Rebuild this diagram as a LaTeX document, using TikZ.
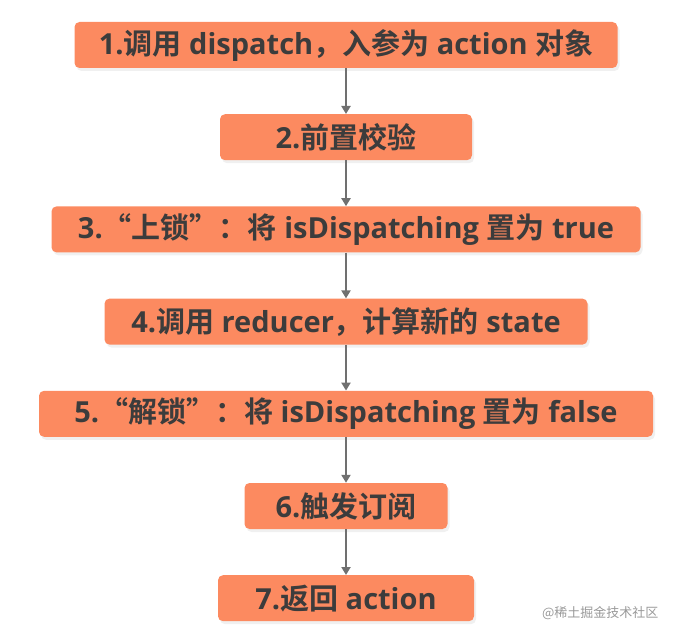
\documentclass[tikz,border=0pt]{standalone}
\usepackage{fontspec}
\setmainfont{Open Sans}
\newfontfamily\cjk{Noto Sans CJK SC}[BoldFont={Noto Sans CJK SC Bold}]
\newcommand{\zh}[1]{{\cjk #1}}
\usepackage{tikz}
\usetikzlibrary{positioning, shadows, arrows.meta}
\definecolor{boxorange}{HTML}{FC8A60}
\definecolor{boxtext}{HTML}{3C3C3C}
\definecolor{arrowgray}{HTML}{707070}
\tikzstyle{flowbox} = [rectangle, rounded corners=5pt, fill=boxorange, text=boxtext, font=\bfseries\fontsize{29}{31}\selectfont, minimum height=46pt, inner sep=0pt, drop shadow={opacity=0.12, shadow xshift=2pt, shadow yshift=-3pt}]
\tikzstyle{arrow} = [line width=2.4pt, draw=arrowgray, -{Triangle[width=9pt, length=8pt]}]

\begin{document}
\begin{tikzpicture}[x=1pt, y=-1pt, node distance=45.8pt]
        \useasboundingbox (0,0) rectangle (680,639);

        \node (box1) at (346,45) [flowbox, minimum width=543pt] {1.\zh{调用} dispatch\zh{，入参为} action \zh{对象}};
        \node (box2) [flowbox, minimum width=252pt, below=of box1] {2.\zh{前置校验}};
        \node (box3) [flowbox, minimum width=589pt, below=of box2] {3.\zh{“上锁”：将} isDispatching \zh{置为} true};
        \node (box4) [flowbox, minimum width=483pt, below=of box3] {4.\zh{调用} reducer\zh{，计算新的} state};
        \node (box5) [flowbox, minimum width=614pt, below=of box4] {5.\zh{“解锁”：将} isDispatching \zh{置为} false};
        \node (box6) [flowbox, minimum width=203pt, below=of box5] {6.\zh{触发订阅}};
        \node (box7) [flowbox, minimum width=256pt, below=of box6] {7.\zh{返回} action};

        \foreach \a/\b in {1/2, 2/3, 3/4, 4/5, 5/6, 6/7}{
                \draw[arrow] (box\a) -- (box\b);
            }

        \node (mark) [anchor=east, text=black!40, font=\cjk\fontsize{13}{14}\selectfont] at (662,613) {@稀土掘金技术社区};
    \end{tikzpicture}
\end{document}
